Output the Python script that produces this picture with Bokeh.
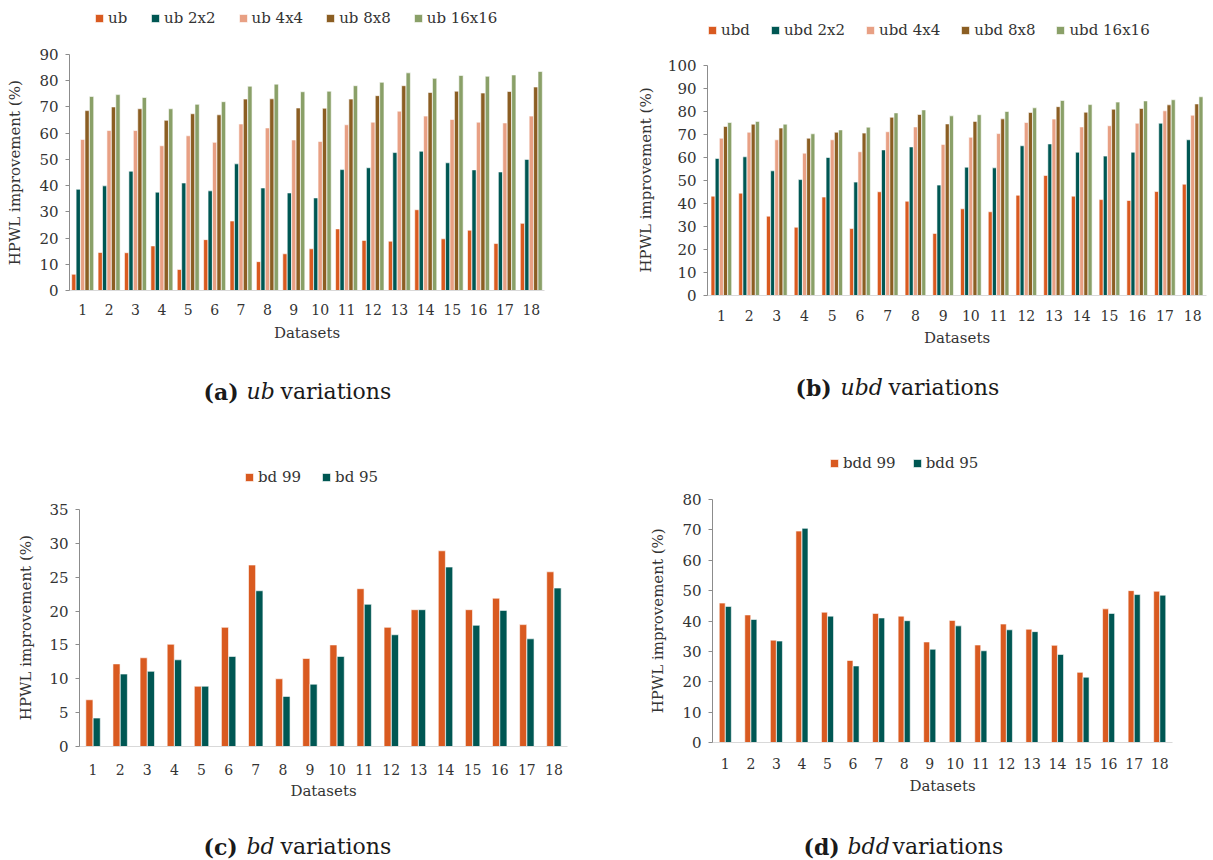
from bokeh.plotting import figure
from bokeh.models import FactorRange, Range1d, Legend, LegendItem, Label, ColumnDataSource, FixedTicker
from bokeh.transform import dodge
from bokeh.layouts import column, row
from bokeh.embed import file_html
from bokeh.resources import INLINE

datasets = [str(i) for i in range(1, 19)]

ub = [6.2, 14.5, 14.4, 17.0, 8.0, 19.4, 26.5, 11.0, 14.0, 15.9, 23.5, 19.1, 18.8, 30.8, 19.7, 23.0, 17.9, 25.6]
ub_2x2 = [38.6, 39.9, 45.5, 37.5, 41.0, 38.0, 48.3, 39.1, 37.2, 35.3, 46.1, 46.8, 52.6, 53.1, 48.7, 46.0, 45.2, 50.0]
ub_4x4 = [57.6, 61.0, 61.0, 55.2, 59.0, 56.5, 63.5, 62.0, 57.4, 56.8, 63.2, 64.2, 68.4, 66.5, 65.2, 64.2, 63.9, 66.5]
ub_8x8 = [68.6, 70.0, 69.3, 64.9, 67.4, 67.0, 73.0, 73.1, 69.6, 69.5, 73.0, 74.3, 78.1, 75.5, 76.0, 75.3, 75.9, 77.6]
ub_16x16 = [74.0, 74.7, 73.6, 69.3, 71.0, 72.0, 77.9, 78.7, 75.8, 76.0, 78.1, 79.4, 83.0, 80.9, 82.0, 81.7, 82.2, 83.5]

ubd = [43.2, 44.5, 34.5, 29.7, 42.8, 29.1, 45.1, 41.0, 27.0, 37.7, 36.4, 43.6, 52.2, 43.2, 41.7, 41.3, 45.2, 48.4]
ubd_2x2 = [59.6, 60.3, 54.2, 50.4, 60.0, 49.3, 63.3, 64.6, 48.0, 55.8, 55.5, 65.1, 65.9, 62.3, 60.6, 62.3, 74.9, 67.7]
ubd_4x4 = [68.4, 71.0, 67.7, 61.9, 67.7, 62.5, 71.2, 73.3, 65.7, 68.8, 70.4, 75.2, 76.7, 73.3, 73.8, 74.9, 80.3, 78.4]
ubd_8x8 = [73.5, 74.5, 72.8, 68.4, 71.0, 70.6, 77.5, 78.7, 74.6, 75.7, 76.8, 79.6, 82.1, 79.7, 81.0, 81.3, 82.9, 83.3]
ubd_16x16 = [75.2, 75.7, 74.5, 70.3, 72.0, 73.2, 79.4, 80.7, 78.1, 78.6, 80.0, 81.6, 84.8, 83.0, 84.1, 84.6, 85.1, 86.4]

bd_99 = [6.9, 12.2, 13.1, 15.1, 8.9, 17.6, 26.8, 10.0, 13.0, 15.0, 23.3, 17.6, 20.2, 28.9, 20.2, 21.9, 18.0, 25.8]
bd_95 = [4.2, 10.7, 11.1, 12.8, 8.9, 13.3, 23.0, 7.4, 9.2, 13.3, 21.0, 16.5, 20.2, 26.5, 17.9, 20.1, 15.9, 23.4]

bdd_99 = [45.9, 42.0, 33.7, 69.6, 42.9, 27.0, 42.5, 41.6, 33.1, 40.2, 32.1, 39.0, 37.3, 32.0, 23.1, 44.0, 50.0, 49.8]
bdd_95 = [44.8, 40.5, 33.4, 70.5, 41.6, 25.2, 41.0, 40.1, 30.7, 38.4, 30.2, 37.1, 36.5, 29.0, 21.5, 42.5, 48.7, 48.5]

ORANGE = "#D95A20"
TEAL = "#005753"
SALMON = "#E8A084"
BROWN = "#8B5E23"
GREEN = "#8AA068"
FONT = "DejaVu Serif"
TXT = "#333333"
TOP = 2
YLABEL = "HPWL improvement (%)"
NBSP_PX = 0.318 * 15  # width of a no-break space in the axis-label font


def caption(width, height, left, right, parts, xs, base_y):
    c = figure(width=width, height=height, x_range=Range1d(left, width - right),
               y_range=Range1d(0, height), output_backend="svg", toolbar_location=None,
               min_border_left=left, min_border_right=right, min_border_top=0,
               min_border_bottom=0, frame_align=False)
    c.axis.visible = False
    c.grid.visible = False
    c.outline_line_color = None
    for txt, xpos, st in zip(parts, xs, ["bold", "italic", "normal"]):
        c.add_layout(Label(x=xpos, y=base_y, text=txt, text_font=FONT, text_font_size="22px",
                           text_font_style=st, text_color="#1a1a1a", text_align="left",
                           text_baseline="alphabetic"))
    return c


def panel(width, height, left, right, frame_bottom, ymax_px, ymax, ystep, series, names,
          colors, bar_w, legend_loc, spacing, ylab_standoff, xtick_standoff, xlab_standoff):
    # frame spans from TOP to frame_bottom; the value ymax sits at ymax_px
    y_end = ymax * (frame_bottom - TOP) / (frame_bottom - ymax_px)
    p = figure(width=width, height=height, x_range=FactorRange(*datasets),
               y_range=Range1d(0, y_end), output_backend="svg", toolbar_location=None,
               min_border_left=left, min_border_right=right,
               min_border_top=TOP, min_border_bottom=height - frame_bottom, frame_align=False)
    data = {"ds": datasets}
    for i, s in enumerate(series):
        data["s%d" % i] = s
    src = ColumnDataSource(data)
    n = len(series)
    items = []
    for i in range(n):
        off = (i - (n - 1) / 2) * bar_w
        r = p.vbar(x=dodge("ds", off, range=p.x_range), top="s%d" % i, width=bar_w * 0.97,
                   source=src, fill_color=colors[i], line_color="white", line_width=0.6)
        items.append(LegendItem(label=names[i], renderers=[r]))
    p.add_layout(Legend(items=items, orientation="horizontal", location=legend_loc,
                        glyph_width=10, glyph_height=10, label_standoff=4, spacing=spacing,
                        padding=0, margin=0, border_line_color=None, background_fill_alpha=0,
                        label_text_font=FONT, label_text_font_size="15px",
                        label_text_color=TXT))

    p.xgrid.visible = False
    p.ygrid.visible = False
    p.outline_line_color = None

    # centre the axis title on the 0..ymax part of the axis
    shift = ((ymax_px + frame_bottom) / 2.0) - ((TOP + frame_bottom) / 2.0)
    pad = "\u00a0" * int(round(2 * shift / NBSP_PX))

    p.yaxis.bounds = (0, ymax)
    p.yaxis.ticker = FixedTicker(ticks=list(range(0, ymax + 1, ystep)))
    p.yaxis.axis_line_color = "#8c8c8c"
    p.yaxis.major_tick_line_color = "#8c8c8c"
    p.yaxis.major_tick_out = 4
    p.yaxis.major_tick_in = 0
    p.yaxis.minor_tick_line_color = None
    p.yaxis.major_label_standoff = 7
    p.yaxis.major_label_text_font = FONT
    p.yaxis.major_label_text_font_size = "15px"
    p.yaxis.major_label_text_color = TXT
    p.yaxis.axis_label = YLABEL + pad
    p.yaxis.axis_label_text_font = FONT
    p.yaxis.axis_label_text_font_size = "15px"
    p.yaxis.axis_label_text_font_style = "normal"
    p.yaxis.axis_label_text_color = TXT
    p.yaxis.axis_label_standoff = ylab_standoff

    p.xaxis.axis_line_color = "#d9d9d9"
    p.xaxis.major_tick_line_color = None
    p.xaxis.minor_tick_line_color = None
    p.xaxis.major_label_standoff = xtick_standoff
    p.xaxis.major_label_text_font = FONT
    p.xaxis.major_label_text_font_size = "14px"
    p.xaxis.major_label_text_color = TXT
    p.xaxis.axis_label = "Datasets"
    p.xaxis.axis_label_text_font = FONT
    p.xaxis.axis_label_text_font_size = "15px"
    p.xaxis.axis_label_text_font_style = "normal"
    p.xaxis.axis_label_text_color = TXT
    p.xaxis.axis_label_standoff = xlab_standoff
    return p


five = [ORANGE, TEAL, SALMON, BROWN, GREEN]
two = [ORANGE, TEAL]

pa = panel(606, 365, 69, 62, 290, 54, 90, 10, [ub, ub_2x2, ub_4x4, ub_8x8, ub_16x16],
           ["ub", "ub 2x2", "ub 4x4", "ub 8x8", "ub 16x16"], five, 0.168,
           (25, 263), 22, 12, 7, 6)
ca = caption(606, 65, 69, 62, ["(a)", "ub", "variations"], [203, 246, 280], 39)

pb = panel(607, 365, 101, 7, 295, 65, 100, 10, [ubd, ubd_2x2, ubd_4x4, ubd_8x8, ubd_16x16],
           ["ubd", "ubd 2x2", "ubd 4x4", "ubd 8x8", "ubd 16x16"], five, 0.15,
           (0, 256), 20, 10, 8, 5)
cb = caption(607, 65, 101, 7, ["(b)", "ubd", "variations"], [189, 234, 282], 43)

pc = panel(606, 376, 79, 39, 316, 79, 35, 5, [bd_99, bd_95], ["bd 99", "bd 95"], two, 0.27,
           (165, 260), 20, 11, 11, 4)
cc = caption(606, 54, 79, 39, ["(c)", "bd", "variations"], [203, 246, 280], 14)

pd = panel(607, 376, 106, 41, 312, 69, 80, 10, [bdd_99, bdd_95], ["bdd 99", "bdd 95"], two, 0.24,
           (117, 270), 16, 12, 9, 5)
cd = caption(607, 54, 106, 41, ["(d)", "bdd", "variations"], [197, 241, 286], 14)

layout = column(row(column(pa, ca), column(pb, cb)),
                row(column(pc, cc), column(pd, cd)))
open("out.html", "w").write(file_html(layout, INLINE))
